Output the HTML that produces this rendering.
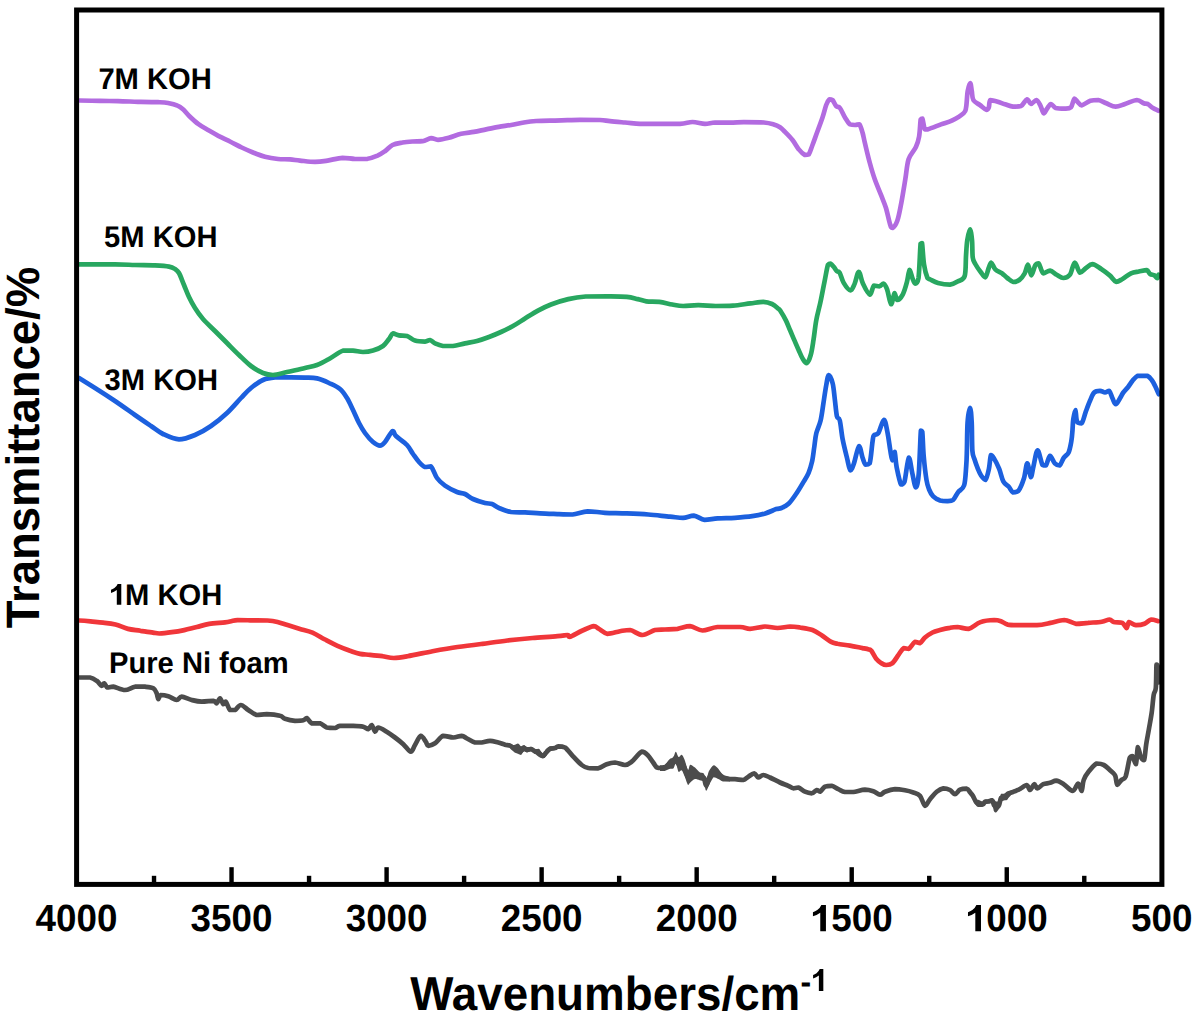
<!DOCTYPE html>
<html><head><meta charset="utf-8"><style>
html,body{margin:0;padding:0;background:#fff;width:1200px;height:1019px;overflow:hidden}
svg{display:block}
.t{font-family:"Liberation Sans",sans-serif;font-weight:bold;fill:#000;text-rendering:geometricPrecision}
</style></head><body>
<svg width="1200" height="1019" viewBox="0 0 1200 1019">
<path d="M79.2,677.5 C81.0,677.5 87.1,677.5 90.0,677.5 C92.9,678.0 94.8,679.4 96.7,680.8 C98.7,682.2 100.5,685.4 101.7,685.8 C103.0,685.8 103.2,683.3 104.2,683.3 C105.2,683.6 106.0,686.9 107.5,687.5 C109.0,687.5 110.4,686.7 113.3,686.7 C116.2,687.1 121.4,690.0 125.0,690.0 C128.6,690.0 131.7,687.2 135.0,686.7 C138.3,686.7 141.9,686.7 145.0,686.7 C148.1,687.0 151.4,687.2 153.3,688.3 C155.2,689.4 155.9,691.5 156.7,693.3 C157.5,695.1 157.6,698.9 158.3,699.2 C159.0,699.2 159.1,695.5 160.8,695.0 C162.5,695.0 165.7,695.5 168.3,696.3 C171.0,697.1 174.5,699.9 176.7,700.0 C178.9,700.0 179.2,696.7 181.7,696.7 C184.2,696.7 188.4,699.2 191.7,700.0 C195.0,700.8 198.1,701.6 201.7,701.7 C205.3,701.7 210.8,700.8 213.3,700.8 C215.8,701.1 215.6,703.3 216.7,703.3 C217.8,702.9 218.9,698.3 220.0,698.3 C221.1,698.4 222.3,703.6 223.3,704.2 C224.3,704.2 224.7,701.7 225.8,701.7 C226.9,702.7 228.5,708.6 230.0,710.0 C231.5,710.0 233.2,710.0 235.0,710.0 C236.8,709.2 238.6,705.0 240.8,705.0 C243.0,705.0 245.7,708.3 248.3,710.0 C251.0,711.7 253.6,714.3 256.7,715.0 C259.8,715.0 262.8,714.2 266.7,714.2 C270.6,714.3 276.9,715.0 280.0,715.8 C283.1,716.5 282.5,717.9 285.0,718.7 C287.5,719.5 291.9,720.5 295.0,720.8 C298.1,720.8 301.4,720.8 303.3,720.3 C305.2,719.8 305.3,718.0 306.7,718.0 C308.1,718.5 309.5,722.4 311.7,723.3 C313.9,723.3 317.5,723.3 320.0,723.3 C322.5,724.0 324.2,726.7 326.7,727.5 C329.2,728.0 332.8,728.0 335.0,728.0 C337.2,727.7 336.9,726.2 340.0,725.8 C343.1,725.8 349.4,725.8 353.3,725.8 C357.2,725.9 360.8,726.1 363.3,726.7 C365.8,727.3 366.9,729.2 368.3,729.2 C369.7,728.9 370.6,725.0 371.7,725.0 C372.8,725.4 373.9,731.3 375.0,731.7 C376.1,731.7 376.4,727.5 378.3,727.5 C380.2,727.5 383.9,730.0 386.7,731.7 C389.5,733.4 392.2,735.4 395.0,737.5 C397.8,739.6 400.7,741.8 403.3,744.2 C405.9,746.6 408.9,751.6 410.8,751.7 C412.8,751.7 413.3,747.6 415.0,745.0 C416.7,742.4 419.0,736.3 420.8,735.8 C422.6,735.8 424.6,740.0 425.8,741.7 C427.1,743.4 426.8,745.5 428.3,745.8 C429.8,745.8 432.5,745.0 435.0,743.3 C437.5,741.6 440.2,736.8 443.3,735.8 C446.4,735.8 450.2,737.5 453.3,737.5 C456.4,737.5 459.4,735.8 461.7,735.8 C464.0,736.0 464.8,737.4 467.0,738.5 C469.2,739.6 472.6,741.8 475.0,742.5 C477.4,742.5 479.2,742.5 481.7,742.5 C484.2,742.2 487.2,740.8 490.0,740.8 C492.8,740.8 495.8,741.9 498.3,742.5 C500.8,743.1 503.1,744.2 505.0,744.7 C506.9,745.2 508.5,745.0 510.0,745.6 C511.5,746.2 512.7,748.0 514.0,748.5 C515.3,748.7 516.8,748.5 518.0,748.7 C519.2,749.0 520.0,750.6 521.0,750.6 C522.0,750.5 523.0,748.3 524.0,748.2 C525.0,748.2 525.8,749.7 527.0,749.8 C528.2,749.8 529.7,749.0 531.0,749.0 C532.3,749.3 533.7,750.8 535.0,751.5 C536.3,752.1 537.7,752.1 539.0,752.9 C540.3,753.7 541.8,756.0 543.0,756.0 C544.2,756.0 544.8,753.9 546.0,752.7 C547.2,751.5 548.5,749.5 550.0,748.8 C551.5,748.1 553.6,748.5 555.0,748.1 C556.4,747.7 556.6,746.4 558.3,746.3 C560.0,746.3 562.5,746.3 565.0,747.5 C567.5,749.2 570.5,753.8 573.3,756.7 C576.1,759.6 579.2,763.1 581.7,765.0 C584.2,766.9 585.5,767.5 588.3,768.0 C591.1,768.3 595.2,768.3 598.3,768.3 C601.4,767.7 603.9,765.2 606.7,764.2 C609.5,763.2 612.0,762.5 615.0,762.5 C618.0,762.6 622.2,765.0 625.0,765.0 C627.8,764.9 628.9,763.9 631.7,761.7 C634.5,759.5 638.9,752.7 641.7,751.7 C644.5,751.7 645.8,753.2 648.3,755.8 C650.8,758.4 654.8,765.5 656.7,767.5 C658.7,768.0 658.7,768.0 660.0,768.0 C661.3,768.0 663.2,768.0 664.7,767.9 C666.2,767.3 667.8,765.1 669.3,764.2 C670.8,763.4 672.3,764.0 673.4,762.9 C674.5,761.7 674.9,757.5 675.8,757.5 C676.6,757.8 677.7,763.7 678.7,764.5 C679.7,764.5 680.6,762.5 681.6,762.5 C682.6,763.0 683.4,765.3 684.5,767.8 C685.6,770.2 687.0,776.4 688.0,777.4 C689.0,777.4 689.1,774.3 690.3,773.6 C691.5,773.3 693.4,773.3 695.0,773.3 C696.6,773.7 698.2,775.5 699.7,776.2 C701.2,776.9 702.7,776.2 703.8,777.6 C704.8,779.2 705.2,785.4 706.1,785.5 C707.0,785.5 707.7,780.6 709.0,778.2 C710.3,775.9 712.2,772.0 713.7,771.2 C715.2,771.2 716.8,772.7 718.3,773.8 C719.8,775.0 721.0,777.1 723.0,778.0 C725.0,778.9 728.0,778.9 730.0,779.1 C732.0,779.2 732.8,779.1 735.0,779.2 C737.2,779.3 741.1,780.0 743.3,780.0 C745.5,779.6 746.5,777.8 748.3,776.7 C750.1,775.6 752.5,773.3 754.2,773.3 C755.9,773.4 756.8,777.2 758.3,777.5 C759.8,777.5 761.3,775.0 763.3,775.0 C765.2,775.0 767.2,776.2 770.0,777.5 C772.8,778.8 777.0,781.1 780.0,782.5 C783.0,783.9 786.1,784.8 788.3,785.8 C790.5,786.8 791.6,788.0 793.3,788.3 C795.0,788.3 796.3,787.5 798.3,787.5 C800.2,788.1 802.8,790.7 805.0,791.7 C807.2,792.7 809.8,793.3 811.7,793.3 C813.7,793.0 815.3,790.3 816.7,790.0 C818.1,790.0 818.6,791.7 820.0,791.7 C821.4,791.2 823.0,787.7 825.0,786.7 C827.0,785.8 829.5,785.8 831.7,785.8 C833.9,786.2 836.1,788.2 838.3,789.2 C840.5,790.2 842.5,791.5 845.0,792.0 C847.5,792.0 850.0,792.0 853.3,792.0 C856.6,791.6 861.7,789.8 865.0,789.7 C868.3,789.7 870.8,790.5 873.3,791.3 C875.8,792.1 878.0,794.6 880.0,794.7 C882.0,794.7 882.5,792.6 885.0,791.7 C887.5,790.8 891.7,789.4 895.0,789.2 C898.3,789.2 902.0,789.8 905.0,790.3 C908.0,790.8 910.8,791.6 913.3,792.5 C915.8,793.4 918.0,793.6 920.0,795.8 C922.0,798.0 923.3,805.2 925.0,805.8 C926.7,805.8 928.0,801.6 930.0,799.2 C932.0,796.9 934.5,793.5 936.7,791.7 C938.9,789.9 941.1,788.6 943.3,788.3 C945.5,788.3 948.0,789.0 950.0,790.0 C952.0,791.0 953.3,794.2 955.0,794.2 C956.7,794.2 958.0,790.6 960.0,789.7 C962.0,788.8 965.0,788.7 966.7,788.7 C968.4,789.1 969.0,791.1 970.0,792.3 C971.0,793.5 972.0,794.4 973.0,796.0 C974.0,797.7 975.0,800.8 976.0,802.0 C977.0,803.3 977.8,803.2 979.0,803.5 C980.2,803.9 982.0,804.2 983.0,804.2 C984.0,803.9 984.2,802.2 985.0,801.7 C985.8,801.5 986.8,801.7 988.0,801.5 C989.2,801.3 991.0,800.4 992.0,800.4 C993.0,801.0 993.3,804.1 994.0,805.2 C994.7,806.3 995.2,807.1 996.0,807.1 C996.8,807.1 998.2,806.8 999.0,805.2 C999.8,803.7 1000.2,799.3 1001.0,797.9 C1001.8,797.0 1003.0,797.4 1004.0,797.0 C1005.0,796.7 1006.0,796.5 1007.0,795.8 C1008.0,795.2 1008.7,793.9 1010.0,793.1 C1011.3,792.3 1013.3,791.9 1015.0,791.2 C1016.7,790.6 1018.0,790.0 1020.0,789.0 C1022.0,787.9 1025.0,785.0 1026.7,785.0 C1028.4,785.2 1028.8,790.0 1030.0,790.0 C1031.2,789.9 1033.0,784.5 1034.2,784.2 C1035.5,784.2 1036.0,788.3 1037.5,788.3 C1039.0,788.3 1041.2,785.1 1043.3,784.2 C1045.4,783.3 1047.8,783.4 1050.0,782.8 C1052.2,782.2 1053.9,780.7 1056.2,780.7 C1058.5,780.9 1061.0,782.5 1063.7,784.2 C1066.5,785.9 1070.3,791.0 1072.7,791.0 C1075.1,790.9 1076.7,783.5 1078.2,783.5 C1079.7,783.5 1080.7,791.0 1081.6,791.0 C1082.5,790.4 1082.5,783.2 1083.7,780.0 C1084.9,776.8 1086.3,774.5 1088.5,771.8 C1090.7,769.0 1094.2,764.6 1096.7,763.5 C1099.2,763.5 1101.1,763.5 1103.6,764.9 C1106.1,766.3 1109.8,770.0 1111.8,771.8 C1113.8,773.6 1114.4,773.7 1115.3,775.9 C1116.2,778.1 1116.3,784.1 1117.3,784.8 C1118.3,784.8 1120.0,781.4 1121.4,780.0 C1122.8,778.6 1124.2,780.0 1125.6,776.6 C1127.0,772.9 1128.6,761.4 1129.7,758.0 C1130.8,756.0 1131.4,756.0 1132.4,756.0 C1133.4,757.0 1135.0,764.2 1135.9,764.2 C1136.8,762.7 1137.1,748.4 1137.9,747.1 C1138.7,747.1 1139.7,754.5 1140.7,756.7 C1141.7,758.9 1143.2,760.1 1144.1,760.1 C1145.0,758.0 1145.4,749.4 1146.2,744.3 C1147.0,739.1 1148.0,734.5 1148.9,729.2 C1149.8,723.9 1150.9,718.4 1151.7,712.7 C1152.5,707.0 1153.0,698.9 1153.7,694.8 C1154.4,690.7 1155.3,693.0 1155.8,688.0 C1156.3,683.0 1156.2,668.0 1156.5,664.6 C1156.8,664.6 1157.6,664.6 1157.9,667.4 C1158.2,670.4 1158.4,680.0 1158.5,682.5" fill="none" stroke="#4c4c4c" stroke-width="4.7" stroke-linejoin="round" stroke-linecap="round"/>
<path d="M970.0,789.6 C970.5,790.1 972.0,791.0 973.0,792.5 C974.0,794.0 975.0,797.4 976.0,798.7 C977.0,799.9 977.8,799.5 979.0,800.0 C980.2,800.5 982.0,801.6 983.0,801.6 C984.0,801.6 984.2,799.9 985.0,799.6 C985.8,799.6 986.8,799.6 988.0,799.6 C989.2,799.3 991.0,798.0 992.0,797.9 C993.0,797.9 993.3,798.5 994.0,799.1 C994.7,799.8 995.2,801.2 996.0,801.6 C996.8,801.6 998.2,801.6 999.0,801.6 C999.8,800.3 1000.2,795.0 1001.0,793.7 C1001.8,793.7 1003.0,793.7 1004.0,793.7 C1005.0,793.4 1006.0,792.1 1007.0,791.6 C1008.0,791.2 1008.7,791.1 1010.0,790.8 C1011.3,790.5 1013.3,790.3 1015.0,789.6 C1016.7,788.9 1019.2,787.1 1020.0,786.6 L1020.0,791.3 C1019.2,791.6 1016.7,792.2 1015.0,792.9 C1013.3,793.6 1011.3,794.2 1010.0,795.4 C1008.7,796.6 1008.0,799.2 1007.0,800.0 C1006.0,800.4 1005.0,800.0 1004.0,800.4 C1003.0,800.8 1001.8,800.7 1001.0,802.1 C1000.2,803.5 999.8,807.1 999.0,808.8 C998.2,810.5 996.8,812.1 996.0,812.5 C995.2,812.5 994.7,812.5 994.0,811.3 C993.3,809.7 993.0,804.2 992.0,802.9 C991.0,802.9 989.2,803.2 988.0,803.4 C986.8,803.5 985.8,803.4 985.0,803.8 C984.2,804.4 984.0,806.2 983.0,806.7 C982.0,807.1 980.2,807.1 979.0,807.1 C977.8,806.9 977.0,806.6 976.0,805.4 C975.0,804.1 974.0,801.3 973.0,799.6 C972.0,797.9 970.5,795.8 970.0,795.0 Z" fill="#4c4c4c"/>
<path d="M660.0,765.2 C660.8,765.1 663.2,765.2 664.7,764.7 C666.2,763.7 667.8,760.7 669.3,759.4 C670.8,758.1 672.3,758.4 673.4,757.1 C674.5,755.8 674.9,751.8 675.8,751.8 C676.6,751.8 677.7,756.6 678.7,757.1 C679.7,757.1 680.6,754.7 681.6,754.7 C682.6,755.1 683.4,756.9 684.5,759.4 C685.6,761.9 687.0,769.0 688.0,769.9 C689.0,769.9 689.1,765.1 690.3,764.7 C691.5,764.7 693.4,766.4 695.0,767.6 C696.6,768.9 698.2,771.2 699.7,772.2 C701.2,773.2 702.7,772.2 703.8,773.4 C704.8,774.8 705.2,780.4 706.1,780.4 C707.0,780.0 707.7,773.6 709.0,771.1 C710.3,768.6 712.2,765.6 713.7,765.2 C715.2,765.2 716.8,767.1 718.3,768.7 C719.8,770.3 721.0,773.2 723.0,774.6 C725.0,776.0 728.8,776.5 730.0,776.9 L730.0,781.4 C728.8,781.4 725.0,781.4 723.0,781.4 C721.0,781.0 719.8,779.7 718.3,779.0 C716.8,778.3 715.2,777.3 713.7,777.3 C712.2,778.4 710.3,783.2 709.0,785.4 C707.7,787.6 707.0,790.7 706.1,790.7 C705.2,790.1 704.8,783.6 703.8,781.9 C702.7,780.2 701.2,780.7 699.7,780.2 C698.2,779.7 696.6,779.0 695.0,779.0 C693.4,779.4 691.5,781.5 690.3,782.5 C689.1,783.5 689.0,784.9 688.0,784.9 C687.0,783.8 685.6,778.5 684.5,776.1 C683.4,773.7 682.6,771.0 681.6,770.3 C680.6,770.3 679.7,772.0 678.7,772.0 C677.7,770.8 676.6,763.9 675.8,763.3 C674.9,763.3 674.5,767.6 673.4,768.6 C672.3,769.1 670.8,768.7 669.3,769.1 C667.8,769.5 666.2,770.8 664.7,771.1 C663.2,771.1 660.8,770.9 660.0,770.9 Z" fill="#4c4c4c"/>
<path d="M505.0,742.7 C505.8,742.9 508.5,743.3 510.0,743.7 C511.5,744.1 512.7,745.0 514.0,745.0 C515.3,745.0 516.8,743.5 518.0,743.5 C519.2,743.7 520.0,745.9 521.0,746.2 C522.0,746.2 523.0,745.0 524.0,745.0 C525.0,745.1 525.8,746.8 527.0,747.1 C528.2,747.1 529.7,746.7 531.0,746.7 C532.3,747.0 533.7,748.8 535.0,749.1 C536.3,749.1 537.7,748.7 539.0,748.7 C540.3,749.5 541.8,753.6 543.0,753.7 C544.2,753.7 544.8,750.4 546.0,749.1 C547.2,747.9 548.5,746.7 550.0,746.2 C551.5,746.2 554.2,746.2 555.0,746.2 L555.0,750.0 C554.2,750.2 551.5,750.2 550.0,751.3 C548.5,752.4 547.2,755.1 546.0,756.3 C544.8,757.5 544.2,758.2 543.0,758.4 C541.8,758.4 540.3,757.9 539.0,757.1 C537.7,756.3 536.3,754.8 535.0,753.8 C533.7,752.8 532.3,751.5 531.0,751.3 C529.7,751.3 528.2,752.5 527.0,752.5 C525.8,752.5 525.0,751.3 524.0,751.3 C523.0,751.7 522.0,754.6 521.0,755.0 C520.0,755.0 519.2,754.3 518.0,753.8 C516.8,753.3 515.3,753.2 514.0,752.1 C512.7,751.0 511.5,748.4 510.0,747.5 C508.5,746.7 505.8,746.8 505.0,746.7 Z" fill="#4c4c4c"/>
<path d="M79.2,620.5 C81.1,620.6 86.5,621.0 90.5,621.4 C94.5,621.8 98.8,622.1 103.0,622.6 C107.2,623.1 111.3,623.5 115.5,624.5 C119.7,625.5 123.8,627.9 128.0,628.9 C132.2,629.9 136.3,630.1 140.5,630.8 C144.7,631.4 149.9,632.1 153.0,632.6 C156.1,633.1 156.1,633.5 159.2,633.5 C162.4,633.4 167.6,632.8 171.8,632.2 C175.9,631.7 180.1,631.0 184.2,630.1 C188.4,629.2 192.6,628.0 196.8,627.0 C200.9,626.0 204.5,624.7 209.2,623.9 C214.0,623.1 221.3,622.8 225.0,622.3 C228.7,621.8 229.2,621.6 231.2,621.2 C233.3,620.8 234.4,620.2 237.5,620.1 C240.6,620.1 245.0,620.2 250.0,620.3 C255.0,620.4 262.9,620.3 267.5,620.5 C272.1,620.8 274.2,621.2 277.5,622.0 C280.8,622.8 283.8,624.0 287.5,625.1 C291.2,626.2 295.8,627.6 300.0,628.9 C304.2,630.1 308.3,630.8 312.5,632.6 C316.7,634.4 320.8,637.3 325.0,639.5 C329.2,641.7 333.3,643.9 337.5,645.8 C341.7,647.6 346.2,649.4 350.0,650.8 C353.8,652.1 356.7,653.2 360.0,653.9 C363.3,654.6 366.2,654.4 370.0,654.8 C373.8,655.2 378.5,655.7 382.5,656.2 C386.5,656.8 389.6,658.0 393.8,658.0 C397.9,658.0 401.0,657.4 407.5,656.2 C414.0,655.1 424.2,652.8 432.5,651.2 C440.8,649.7 449.2,648.2 457.5,647.0 C465.8,645.8 474.2,644.8 482.5,643.8 C490.8,642.7 499.2,641.5 507.5,640.5 C515.8,639.5 524.2,638.7 532.5,638.0 C540.8,637.3 551.7,636.8 557.5,636.2 C563.3,635.8 565.4,635.0 567.5,635.0 C569.6,635.1 567.5,636.8 570.0,636.8 C572.5,636.0 578.5,632.2 582.5,630.5 C586.5,628.8 591.0,626.5 593.8,626.2 C596.5,626.2 596.5,627.5 598.8,628.8 C601.0,630.0 604.0,633.3 607.5,633.8 C611.0,633.8 616.2,631.9 620.0,631.2 C623.8,630.6 626.2,630.0 630.0,630.0 C633.8,630.6 638.3,635.0 642.5,635.0 C646.7,635.0 651.2,630.9 655.0,630.0 C658.8,629.5 661.2,629.7 665.0,629.5 C668.8,629.3 673.3,629.3 677.5,628.8 C681.7,628.2 685.8,626.2 690.0,626.2 C694.2,626.5 697.9,630.4 702.5,630.5 C707.1,630.5 711.2,627.6 717.5,627.0 C723.8,627.0 734.6,627.0 740.0,627.0 C745.4,627.3 745.8,628.8 750.0,628.8 C754.2,628.7 760.4,626.6 765.0,626.5 C769.6,626.5 773.3,628.0 777.5,628.0 C781.7,628.0 786.2,626.6 790.0,626.5 C793.8,626.5 796.2,626.9 800.0,627.5 C803.8,628.1 808.8,628.7 812.5,630.0 C816.2,631.3 818.9,633.5 822.0,635.5 C825.1,637.5 828.7,640.5 831.2,641.9 C833.8,643.3 834.4,643.1 837.5,643.8 C840.6,644.4 845.8,644.9 850.0,645.6 C854.2,646.3 859.4,647.5 862.5,648.1 C865.6,648.7 867.3,649.0 868.8,649.4 C870.2,649.8 870.0,649.4 871.2,650.6 C872.5,652.2 874.6,656.7 876.2,658.8 C877.9,660.8 879.3,662.0 881.0,663.0 C882.7,664.0 884.3,665.0 886.2,665.0 C888.2,665.0 890.4,664.9 892.5,663.1 C894.6,661.3 896.9,656.9 898.8,654.4 C900.6,651.9 902.1,649.0 903.8,648.1 C905.4,648.1 906.9,648.8 908.8,648.8 C910.6,647.7 913.1,642.8 915.0,641.9 C916.9,641.9 918.3,643.1 920.0,643.1 C921.7,642.4 922.9,639.3 925.0,637.5 C927.1,635.7 930.0,633.8 932.5,632.5 C935.0,631.2 937.1,630.8 940.0,630.0 C942.9,629.2 947.1,628.2 950.0,627.8 C952.9,627.2 954.4,627.0 957.5,627.0 C960.6,627.2 964.7,628.9 968.5,628.9 C972.3,628.1 976.2,623.6 980.5,622.1 C984.8,620.6 990.8,620.1 994.2,620.0 C997.6,620.0 998.7,620.4 1001.0,621.2 C1003.3,622.0 1004.7,623.9 1007.8,624.6 C1010.9,625.2 1014.9,625.1 1019.8,625.2 C1024.7,625.2 1031.8,625.2 1036.9,625.2 C1042.0,624.8 1046.0,623.8 1050.5,622.9 C1055.0,622.0 1059.9,620.0 1064.2,620.0 C1068.5,620.1 1072.2,623.3 1076.2,623.8 C1080.2,623.8 1083.8,623.2 1088.1,622.9 C1092.4,622.5 1098.2,622.3 1101.8,621.7 C1105.4,621.1 1107.5,619.5 1109.5,619.5 C1111.5,619.6 1111.6,621.5 1113.7,622.1 C1115.8,622.7 1120.2,622.1 1122.3,622.9 C1124.4,623.9 1125.5,628.1 1126.6,628.1 C1127.7,628.0 1127.5,622.6 1129.1,622.1 C1130.7,622.1 1133.4,624.9 1136.0,625.2 C1138.6,625.2 1142.0,624.8 1144.5,623.8 C1147.0,622.8 1149.0,619.9 1151.3,619.5 C1153.6,619.5 1157.0,620.9 1158.2,621.2" fill="none" stroke="#f0363a" stroke-width="4.7" stroke-linejoin="round" stroke-linecap="round"/>
<path d="M79.0,378.0 C81.7,379.7 89.0,384.2 95.0,388.0 C101.0,391.8 108.3,396.5 115.0,401.0 C121.7,405.5 129.0,410.8 135.0,415.0 C141.0,419.2 146.3,422.8 151.0,426.0 C155.7,429.2 158.3,431.8 163.0,434.0 C167.7,436.2 173.7,439.2 179.0,439.4 C184.3,439.4 189.7,437.2 195.0,435.0 C200.3,432.8 205.7,429.7 211.0,426.0 C216.3,422.3 222.0,417.7 227.0,413.0 C232.0,408.3 237.0,402.2 241.0,398.0 C245.0,393.8 247.3,391.0 251.0,388.0 C254.7,385.0 259.0,381.8 263.0,380.0 C267.0,378.2 270.3,377.8 275.0,377.4 C279.7,377.4 286.0,377.4 291.0,377.4 C296.0,377.4 300.7,377.4 305.0,377.6 C309.3,377.8 313.0,377.6 317.0,378.4 C321.0,379.3 325.2,381.2 329.0,383.0 C332.8,384.8 337.0,386.5 340.0,389.0 C343.0,391.5 344.8,394.5 347.0,398.0 C349.2,401.5 351.0,405.8 353.0,410.0 C355.0,414.2 357.0,419.2 359.0,423.0 C361.0,426.8 362.7,429.8 365.0,433.0 C367.3,436.2 370.5,439.9 373.0,442.0 C375.5,444.1 378.0,445.6 380.0,445.6 C382.0,445.6 382.9,444.4 385.0,442.0 C387.1,439.6 390.8,432.0 392.6,431.0 C394.4,431.0 393.6,433.7 396.0,436.0 C398.4,438.3 404.2,442.0 407.0,445.0 C409.8,448.0 411.0,451.2 413.0,454.0 C415.0,456.8 417.0,459.8 419.0,462.0 C421.0,464.2 423.0,466.3 425.0,467.0 C427.0,467.0 429.0,466.4 431.0,466.4 C433.0,468.2 434.7,474.8 437.0,478.0 C439.3,481.2 441.7,483.3 445.0,485.6 C448.3,487.9 453.7,490.6 457.0,492.0 C460.3,493.4 462.3,492.8 465.0,494.0 C467.7,495.2 469.7,497.5 473.0,499.0 C476.3,500.5 481.8,502.2 485.0,503.0 C488.2,503.8 489.7,503.2 492.0,504.0 C494.3,504.8 495.8,506.7 499.0,508.0 C502.2,509.3 506.7,511.3 511.0,512.0 C515.3,512.4 520.2,512.2 525.0,512.4 C529.8,512.6 534.6,513.1 540.0,513.4 C545.4,513.7 551.9,513.9 557.3,514.1 C562.7,514.3 567.4,514.5 572.5,514.5 C577.6,514.0 582.3,511.6 587.7,511.3 C593.1,511.3 598.5,512.4 605.0,512.8 C611.5,513.1 619.5,513.1 626.7,513.4 C633.9,513.7 641.1,514.0 648.3,514.5 C655.5,515.0 664.2,516.2 670.0,516.7 C675.8,517.2 679.0,517.8 683.0,517.8 C687.0,517.6 690.2,515.6 693.8,515.6 C697.4,516.0 700.7,519.4 704.7,519.9 C708.7,519.9 712.7,518.8 717.7,518.4 C722.8,518.0 729.2,518.2 735.0,517.8 C740.8,517.4 747.2,516.9 752.3,516.2 C757.3,515.5 761.3,514.6 765.3,513.4 C769.3,512.2 773.5,510.0 776.2,509.1 C778.9,508.2 779.4,508.9 781.4,508.0 C783.4,507.1 786.1,506.1 788.5,503.8 C790.9,501.6 793.3,497.9 795.7,494.5 C798.1,491.1 800.7,486.7 802.8,483.1 C804.9,479.6 807.0,476.8 808.5,473.2 C810.0,469.6 811.0,466.1 812.0,461.8 C813.0,457.5 813.5,452.2 814.2,447.5 C814.9,442.8 815.2,437.8 816.3,433.3 C817.4,428.8 819.4,425.5 820.6,420.5 C821.8,415.5 822.5,409.3 823.4,403.4 C824.3,397.5 825.4,389.6 826.3,384.9 C827.2,380.2 827.7,375.2 828.8,375.0 C829.9,375.0 831.7,379.5 832.7,383.5 C833.7,387.5 834.1,393.8 834.8,399.2 C835.5,404.6 836.1,412.6 836.9,416.2 C837.7,419.8 838.8,416.7 839.8,420.5 C840.8,424.3 841.4,432.8 842.6,439.0 C843.8,445.2 845.6,452.3 846.9,457.5 C848.2,462.7 849.2,469.4 850.4,470.3 C851.6,470.3 852.6,467.2 854.0,463.2 C855.4,459.2 857.6,447.1 859.0,446.1 C860.4,446.1 861.4,454.4 862.5,457.5 C863.6,460.6 864.2,463.7 865.4,464.6 C866.6,464.6 868.5,464.6 869.7,463.2 C870.9,459.4 871.8,446.4 872.5,441.8 C873.2,437.2 872.9,436.8 873.9,435.4 C874.9,434.0 876.5,435.4 878.2,433.3 C879.9,430.7 882.4,420.0 883.9,419.8 C885.4,419.8 886.3,426.8 887.4,431.9 C888.5,437.0 889.5,445.7 890.3,450.4 C891.1,455.1 891.7,460.1 892.4,460.3 C893.1,460.3 893.9,451.8 894.6,451.8 C895.3,453.0 895.6,462.1 896.7,467.5 C897.8,472.9 899.7,482.1 901.0,484.5 C902.3,484.5 903.2,484.5 904.5,481.7 C905.8,477.2 907.5,458.9 908.8,457.5 C910.1,457.5 911.1,468.2 912.3,473.2 C913.5,478.2 914.8,487.4 915.9,487.4 C917.0,487.4 918.0,482.7 918.8,473.2 C919.6,463.7 920.3,437.4 920.9,430.5 C921.5,430.5 921.8,430.5 922.3,431.9 C922.8,436.2 923.0,448.1 923.7,456.1 C924.4,464.1 925.6,474.4 926.5,480.0 C927.4,485.6 928.0,486.8 929.1,489.5 C930.2,492.2 931.4,494.6 933.2,496.4 C935.0,498.2 937.8,499.7 940.1,500.5 C942.4,501.2 944.8,501.2 947.0,501.2 C949.2,501.1 951.4,501.2 953.2,499.8 C955.0,498.3 956.2,494.7 958.0,492.3 C959.8,489.9 962.7,489.8 964.1,485.4 C965.5,481.0 965.7,472.1 966.2,466.2 C966.7,460.2 966.7,457.0 966.9,449.7 C967.1,442.4 967.1,429.2 967.6,422.2 C968.1,415.2 969.4,407.8 970.1,407.8 C970.8,407.8 971.3,415.0 971.7,422.2 C972.1,429.4 971.9,444.8 972.4,451.0 C972.9,457.2 973.6,456.3 974.5,459.3 C975.4,462.3 976.8,466.1 977.9,468.9 C979.0,471.6 980.0,474.0 981.3,475.8 C982.5,477.6 984.1,479.9 985.4,479.9 C986.7,478.8 988.0,473.0 988.9,468.9 C989.8,464.8 990.1,457.0 990.9,455.2 C991.7,455.2 992.3,455.6 993.7,457.9 C995.1,460.2 997.6,465.0 999.2,468.9 C1000.8,472.8 1001.7,478.3 1003.3,481.3 C1004.9,484.3 1007.2,485.0 1008.8,486.8 C1010.4,488.6 1011.3,491.6 1012.9,492.3 C1014.5,492.3 1016.6,492.3 1018.4,490.9 C1020.2,488.6 1022.4,483.1 1023.9,478.5 C1025.4,473.9 1026.1,463.6 1027.3,463.4 C1028.5,463.4 1029.8,476.6 1030.8,477.1 C1031.8,477.1 1032.4,470.6 1033.5,466.2 C1034.6,461.8 1036.1,450.6 1037.6,450.4 C1039.1,450.4 1041.0,462.3 1042.4,464.8 C1043.8,465.5 1044.6,465.5 1045.9,465.5 C1047.2,464.0 1048.5,456.2 1050.0,455.9 C1051.5,455.9 1053.2,461.8 1054.8,463.4 C1056.4,465.0 1058.1,465.5 1059.6,465.5 C1061.1,464.6 1062.2,460.1 1063.7,457.9 C1065.2,455.7 1067.3,455.1 1068.6,452.4 C1069.9,449.6 1070.6,445.1 1071.3,441.4 C1072.0,437.7 1072.2,433.7 1072.5,430.0 C1072.8,426.3 1072.8,422.5 1073.3,419.2 C1073.8,415.9 1074.8,410.0 1075.4,410.0 C1076.0,410.4 1076.0,419.5 1077.1,421.7 C1078.1,423.3 1080.2,423.3 1081.7,423.3 C1083.2,421.6 1084.4,415.4 1085.8,411.7 C1087.2,407.9 1088.6,404.0 1090.0,400.8 C1091.4,397.6 1092.5,394.2 1094.2,392.5 C1095.9,390.8 1098.2,390.8 1100.0,390.8 C1101.8,390.8 1103.5,392.5 1105.0,392.5 C1106.5,392.5 1108.0,390.8 1109.2,390.8 C1110.5,391.8 1111.4,396.1 1112.5,398.3 C1113.6,400.5 1114.5,404.2 1115.8,404.2 C1117.0,404.2 1118.8,400.2 1120.0,398.3 C1121.2,396.4 1121.9,394.4 1123.3,392.5 C1124.7,390.6 1126.8,388.6 1128.3,386.7 C1129.8,384.8 1131.0,382.6 1132.5,380.8 C1134.0,379.0 1135.7,376.6 1137.5,375.8 C1139.3,375.8 1141.6,375.8 1143.3,375.8 C1145.0,375.8 1146.1,375.8 1147.5,375.8 C1148.9,376.5 1150.5,378.3 1151.7,380.0 C1153.0,381.7 1153.8,383.4 1155.0,385.8 C1156.2,388.2 1158.1,392.8 1158.8,394.2" fill="none" stroke="#1c60de" stroke-width="4.7" stroke-linejoin="round" stroke-linecap="round"/>
<path d="M79.0,264.4 C85.0,264.4 105.7,264.4 115.0,264.4 C124.3,264.5 128.3,264.8 135.0,265.0 C141.7,265.2 149.3,265.1 155.0,265.4 C160.7,265.7 165.7,266.0 169.0,266.6 C172.3,267.2 173.3,267.9 175.0,269.0 C176.7,270.1 177.5,270.3 179.0,273.0 C180.5,275.7 182.3,281.0 184.0,285.0 C185.7,289.0 187.2,293.2 189.0,297.0 C190.8,300.8 192.7,304.3 195.0,308.0 C197.3,311.7 199.7,315.2 203.0,319.0 C206.3,322.8 211.0,327.0 215.0,331.0 C219.0,335.0 223.0,339.0 227.0,343.0 C231.0,347.0 235.0,351.2 239.0,355.0 C243.0,358.8 247.0,363.0 251.0,366.0 C255.0,369.0 259.3,371.5 263.0,373.0 C266.7,374.5 269.0,375.0 273.0,375.0 C277.0,374.8 281.7,373.2 287.0,372.0 C292.3,370.8 300.0,369.2 305.0,368.0 C310.0,366.8 313.0,366.5 317.0,365.0 C321.0,363.5 324.7,361.4 329.0,359.0 C333.3,356.6 339.0,352.0 343.0,350.6 C347.0,350.6 349.7,350.6 353.0,350.6 C356.3,350.8 359.7,352.0 363.0,352.0 C366.3,352.0 369.7,351.6 373.0,350.6 C376.3,349.6 380.3,347.9 383.0,346.0 C385.7,344.1 387.3,341.1 389.0,339.0 C390.7,336.9 391.3,334.0 393.0,333.4 C394.7,333.4 396.7,335.0 399.0,335.4 C401.3,335.8 404.3,335.4 407.0,336.0 C409.7,336.9 412.0,339.7 415.0,340.6 C418.0,341.5 422.5,341.6 425.0,341.6 C427.5,341.5 428.3,340.0 430.0,340.0 C431.7,340.3 432.8,342.4 435.0,343.4 C437.2,344.4 440.0,345.6 443.0,346.0 C446.0,346.0 449.3,346.0 453.0,346.0 C456.7,345.6 461.0,344.2 465.0,343.4 C469.0,342.6 473.0,342.1 477.0,341.0 C481.0,339.9 485.0,338.5 489.0,337.0 C493.0,335.5 497.0,333.8 501.0,332.0 C505.0,330.2 509.0,328.2 513.0,326.0 C517.0,323.8 520.8,321.1 525.0,318.5 C529.2,315.9 533.7,312.9 538.0,310.6 C542.3,308.3 546.0,306.4 551.0,304.5 C556.0,302.6 562.5,300.4 568.3,299.1 C574.1,297.8 579.2,297.0 585.7,296.5 C592.2,296.3 600.4,296.3 607.3,296.3 C614.1,296.4 621.7,296.4 626.8,296.9 C631.9,297.4 634.5,298.4 637.7,299.1 C641.0,299.8 642.7,300.8 646.3,301.3 C649.9,301.8 655.0,301.4 659.3,301.9 C663.6,302.4 668.3,303.8 672.3,304.5 C676.3,305.2 678.9,305.9 683.2,306.0 C687.5,306.0 692.9,305.2 698.3,305.2 C703.7,305.2 709.9,305.9 715.7,306.0 C721.5,306.0 727.2,306.0 733.0,305.6 C738.8,305.2 745.2,304.0 750.3,303.4 C755.3,302.8 759.7,301.9 763.3,301.9 C766.9,302.0 769.5,302.9 772.0,304.0 C774.5,305.1 777.1,307.6 778.5,308.8 C779.9,310.0 779.2,309.0 780.5,311.0 C781.8,313.0 784.4,317.4 786.0,320.6 C787.6,323.8 788.7,327.1 790.1,330.3 C791.5,333.5 792.8,336.7 794.2,339.9 C795.6,343.1 797.0,346.4 798.4,349.5 C799.8,352.6 801.1,356.1 802.5,358.4 C803.9,360.7 805.2,363.2 806.6,363.2 C808.0,362.6 809.6,358.9 810.7,355.0 C811.9,351.1 812.6,345.6 813.5,339.9 C814.4,334.2 815.1,326.8 816.2,320.6 C817.3,314.4 818.9,309.2 820.3,302.8 C821.7,296.4 823.1,288.5 824.4,282.2 C825.7,275.9 826.9,268.1 827.9,265.0 C828.9,263.7 829.6,263.7 830.6,263.7 C831.6,264.1 833.0,265.9 834.0,267.1 C835.0,268.4 835.9,270.3 836.8,271.2 C837.7,272.1 838.5,271.2 839.6,272.6 C840.8,274.6 841.9,279.9 843.7,282.9 C845.5,285.9 848.7,290.3 850.5,290.4 C852.3,290.4 853.3,286.7 854.7,283.6 C856.1,280.5 857.4,271.9 858.8,271.9 C860.2,271.9 861.1,279.8 862.9,283.6 C864.7,287.4 868.0,294.3 869.8,294.6 C871.6,294.6 872.3,287.0 873.9,285.6 C875.5,285.6 877.8,286.3 879.4,286.3 C881.0,286.0 882.2,283.6 883.5,283.6 C884.8,284.1 885.7,285.7 887.0,289.1 C888.3,292.5 889.9,303.5 891.1,304.2 C892.4,304.2 893.5,293.9 894.5,293.2 C895.5,293.2 895.9,299.8 897.3,300.0 C898.7,300.0 901.1,297.6 902.7,294.6 C904.3,291.6 905.8,286.3 906.9,282.2 C908.0,278.1 908.7,270.5 909.6,269.8 C910.5,269.8 911.5,275.8 912.4,278.1 C913.3,280.4 914.1,283.6 915.1,283.6 C916.1,283.6 917.6,283.6 918.5,278.1 C919.4,271.5 920.0,249.5 920.6,243.7 C921.2,243.0 921.4,243.0 922.0,243.0 C922.6,246.4 923.1,258.4 924.0,264.3 C924.9,270.2 926.5,275.6 927.5,278.1 C928.5,279.3 928.2,278.5 930.0,279.3 C931.8,280.1 934.7,282.1 938.0,283.0 C941.3,283.9 946.7,284.7 950.0,284.7 C953.3,284.4 955.5,282.8 958.0,281.3 C960.5,279.9 963.4,280.2 964.7,276.0 C966.0,271.8 965.6,262.0 966.0,256.0 C966.4,250.0 966.6,244.4 967.3,240.0 C968.0,235.6 969.2,229.3 970.0,229.3 C970.8,229.3 971.5,235.3 972.0,240.0 C972.5,244.7 972.2,253.3 972.7,257.3 C973.2,261.3 974.0,261.6 975.3,264.0 C976.6,266.4 979.0,269.8 980.7,272.0 C982.4,274.2 984.0,277.3 985.3,277.3 C986.6,276.6 987.7,270.4 988.7,268.0 C989.7,265.6 990.2,262.7 991.3,262.7 C992.4,262.9 993.5,267.5 995.3,269.3 C997.1,271.1 1000.0,271.9 1002.0,273.3 C1004.0,274.8 1005.4,276.6 1007.3,278.0 C1009.2,279.4 1011.3,281.7 1013.3,282.0 C1015.3,282.0 1017.4,281.4 1019.3,280.0 C1021.2,278.6 1023.2,275.9 1024.7,273.3 C1026.2,270.8 1026.9,264.7 1028.0,264.7 C1029.1,265.0 1030.1,275.2 1031.3,275.3 C1032.5,275.3 1034.1,267.3 1035.3,265.3 C1036.5,263.3 1037.4,263.3 1038.7,263.3 C1040.0,264.6 1041.4,272.1 1043.3,273.3 C1045.2,273.3 1047.8,270.7 1050.0,270.7 C1052.2,270.9 1054.5,273.5 1056.7,274.7 C1058.9,275.9 1061.1,278.0 1063.3,278.0 C1065.5,278.0 1068.1,277.2 1070.0,274.7 C1071.9,272.1 1073.0,263.0 1074.7,262.7 C1076.4,262.7 1078.2,271.8 1080.0,272.7 C1081.8,272.7 1083.6,269.7 1085.7,268.3 C1087.8,266.9 1089.8,264.1 1092.4,264.1 C1095.0,264.2 1098.3,267.1 1101.2,269.0 C1104.1,270.9 1107.2,273.3 1109.7,275.4 C1112.2,277.5 1114.0,281.2 1116.1,281.8 C1118.2,281.8 1120.0,280.4 1122.5,279.0 C1125.0,277.6 1128.3,274.6 1131.0,273.3 C1133.7,272.1 1136.2,272.0 1138.8,271.5 C1141.4,271.0 1144.7,270.1 1146.6,270.1 C1148.5,270.5 1148.8,273.1 1150.1,274.0 C1151.4,274.9 1153.2,274.7 1154.4,275.4 C1155.6,276.1 1156.5,278.2 1157.2,278.2 C1157.9,278.1 1158.4,275.3 1158.6,274.7" fill="none" stroke="#28a760" stroke-width="4.7" stroke-linejoin="round" stroke-linecap="round"/>
<path d="M79.5,100.5 C82.9,100.6 93.6,100.8 100.0,100.9 C106.4,101.0 111.7,101.0 118.0,101.1 C124.3,101.2 131.3,101.6 138.0,101.8 C144.7,101.9 153.0,102.0 158.0,102.2 C163.0,102.4 164.8,102.4 168.0,103.0 C171.2,103.6 175.0,104.5 177.5,105.6 C180.0,106.6 181.1,107.6 183.0,109.3 C184.9,111.0 186.6,113.5 189.2,116.0 C191.8,118.5 195.4,121.9 198.5,124.2 C201.6,126.5 204.7,128.1 208.0,130.0 C211.3,131.9 214.6,133.9 218.3,135.8 C222.0,137.7 226.1,139.6 230.0,141.5 C233.9,143.4 237.9,145.7 241.7,147.5 C245.5,149.3 249.1,150.9 253.0,152.5 C256.9,154.1 260.8,155.7 265.0,156.8 C269.2,157.9 273.8,158.6 278.0,159.0 C282.2,159.4 286.3,159.1 290.0,159.4 C293.7,159.7 295.8,160.2 300.0,160.6 C304.2,161.0 310.4,161.9 315.0,161.9 C319.6,161.9 322.9,161.3 327.5,160.6 C332.1,159.9 337.9,158.0 342.5,157.8 C347.1,157.8 350.8,158.8 355.0,159.0 C359.2,159.0 363.8,159.0 367.5,158.8 C371.2,158.2 374.6,156.8 377.5,155.6 C380.4,154.3 382.5,153.0 385.0,151.2 C387.5,149.5 389.6,146.5 392.5,145.0 C395.4,143.5 399.2,143.1 402.5,142.5 C405.8,141.9 409.2,141.7 412.5,141.5 C415.8,141.3 419.4,141.5 422.5,141.2 C425.6,140.7 428.7,138.3 431.2,138.1 C433.8,138.1 435.1,139.8 438.0,139.8 C440.9,139.7 444.9,138.8 448.8,137.8 C452.6,136.8 457.1,134.7 461.2,133.8 C465.4,132.8 469.6,132.6 473.8,131.9 C477.9,131.2 482.1,130.2 486.2,129.4 C490.4,128.6 494.6,127.6 498.8,126.9 C502.9,126.2 507.1,125.7 511.2,125.0 C515.4,124.3 519.6,123.2 523.8,122.5 C527.9,121.8 531.0,121.3 536.2,121.0 C541.5,120.7 549.8,120.7 555.0,120.6 C560.2,120.5 563.3,120.4 567.5,120.2 C571.7,120.1 574.6,119.9 580.0,119.9 C585.4,119.9 595.0,119.9 600.0,120.0 C605.0,120.2 605.8,120.8 610.0,121.2 C614.2,121.7 620.0,122.1 625.0,122.5 C630.0,122.9 635.0,123.5 640.0,123.8 C645.0,123.8 648.3,123.8 655.0,123.8 C661.7,123.8 673.8,123.8 680.0,123.8 C686.2,123.5 688.3,122.0 692.5,122.0 C696.7,122.0 701.2,123.7 705.0,123.8 C708.8,123.8 710.8,122.7 715.0,122.5 C719.2,122.5 725.2,122.6 730.0,122.6 C734.8,122.6 738.1,122.3 743.8,122.2 C749.4,122.2 758.8,122.2 763.8,122.5 C768.8,122.9 771.0,123.6 773.8,124.4 C776.5,125.2 778.1,126.0 780.0,127.2 C781.9,128.5 782.9,129.8 785.0,131.9 C787.1,134.0 790.2,137.1 792.5,140.0 C794.8,142.9 796.7,146.9 798.8,149.4 C800.8,151.9 803.3,154.2 805.0,155.0 C806.7,155.0 807.5,155.0 808.8,154.4 C810.0,152.7 811.0,148.9 812.5,145.0 C814.0,141.1 815.8,135.8 817.5,131.2 C819.2,126.7 821.0,121.9 822.5,117.5 C824.0,113.1 825.1,108.0 826.2,105.0 C827.4,102.0 828.4,100.2 829.4,99.4 C830.4,99.4 831.4,99.4 832.5,100.0 C833.6,101.1 835.0,104.9 836.2,106.2 C837.5,107.6 838.5,106.2 840.0,108.1 C841.5,110.0 843.3,114.8 845.0,117.5 C846.7,120.2 848.3,123.2 850.0,124.4 C851.7,125.0 853.4,125.0 855.0,125.0 C856.6,125.0 858.1,124.4 859.4,124.4 C860.6,125.7 861.6,129.4 862.5,132.5 C863.4,135.6 863.7,138.0 864.9,143.0 C866.1,148.0 868.1,156.6 869.7,162.5 C871.3,168.4 872.7,173.3 874.6,178.7 C876.5,184.1 879.1,190.1 881.0,194.9 C882.9,199.8 884.4,203.0 885.9,207.8 C887.4,212.7 888.9,220.6 890.0,224.0 C891.1,227.4 891.2,228.0 892.4,228.0 C893.6,227.5 895.8,225.0 897.3,220.8 C898.8,216.6 899.9,210.0 901.3,203.0 C902.6,196.0 904.2,186.0 905.4,178.7 C906.6,171.4 906.9,164.5 908.6,159.2 C910.4,153.9 914.1,150.9 915.9,147.1 C917.6,143.3 918.3,141.2 919.1,136.6 C919.9,132.0 920.2,122.5 920.7,119.5 C921.2,118.7 921.7,118.7 922.4,118.7 C923.1,120.3 923.9,127.5 924.8,129.3 C925.7,129.3 925.3,129.3 928.0,129.3 C930.7,128.5 937.0,125.9 941.0,124.4 C945.0,122.9 948.5,122.3 952.3,120.4 C956.1,118.5 961.4,115.3 963.7,113.1 C966.0,110.9 965.4,111.1 966.1,107.4 C966.8,103.8 967.0,95.2 967.7,91.2 C968.4,87.2 969.5,83.1 970.2,83.1 C970.9,83.1 971.3,88.4 971.8,91.2 C972.3,94.0 972.0,97.8 973.4,100.1 C974.8,102.4 977.7,103.4 979.9,105.0 C982.1,106.6 984.9,109.4 986.4,109.8 C987.9,109.8 988.1,109.0 988.8,107.4 C989.5,105.8 988.9,101.0 990.4,100.1 C991.9,100.1 995.3,101.0 997.7,101.7 C1000.1,102.4 1002.5,103.5 1005.0,104.3 C1007.5,105.1 1010.3,106.4 1013.0,106.7 C1015.7,106.7 1018.7,106.7 1021.0,106.0 C1023.3,104.8 1025.3,99.6 1027.0,99.3 C1028.7,99.3 1029.5,103.9 1031.0,104.0 C1032.5,104.0 1034.8,100.0 1036.3,100.0 C1037.8,100.2 1039.1,103.1 1040.3,105.3 C1041.5,107.5 1042.6,112.7 1043.7,113.3 C1044.8,113.3 1045.8,110.2 1047.0,108.7 C1048.2,107.2 1049.5,104.1 1051.0,104.0 C1052.5,104.0 1053.4,107.2 1055.7,108.0 C1058.0,108.7 1062.5,108.7 1065.0,108.7 C1067.5,108.6 1069.5,108.7 1071.0,107.3 C1072.5,105.6 1073.2,99.6 1074.3,98.7 C1075.4,98.7 1076.5,100.9 1077.7,102.0 C1078.9,103.1 1079.6,105.3 1081.7,105.3 C1083.8,105.1 1087.5,101.6 1090.3,100.7 C1093.1,100.0 1095.6,100.0 1098.3,100.0 C1101.0,100.4 1103.4,102.2 1106.3,103.3 C1109.2,104.4 1112.6,106.6 1115.7,106.7 C1118.8,106.7 1121.5,105.1 1125.0,104.0 C1128.5,102.9 1133.9,100.1 1137.0,100.0 C1140.1,100.0 1141.9,102.6 1143.7,103.3 C1145.5,104.0 1146.2,103.3 1147.7,104.0 C1149.2,104.8 1151.2,106.9 1153.0,108.0 C1154.8,109.1 1157.4,110.2 1158.3,110.7" fill="none" stroke="#b26be0" stroke-width="4.7" stroke-linejoin="round" stroke-linecap="round"/>
<rect x="76.6" y="10" width="1085.3" height="874.4" fill="none" stroke="#000" stroke-width="5"/>
<rect x="151.82" y="875.8" width="4.4" height="8.2" fill="#000"/>
<rect x="229.34" y="867.2" width="4.4" height="16.8" fill="#000"/>
<rect x="306.86" y="875.8" width="4.4" height="8.2" fill="#000"/>
<rect x="384.39" y="867.2" width="4.4" height="16.8" fill="#000"/>
<rect x="461.91" y="875.8" width="4.4" height="8.2" fill="#000"/>
<rect x="539.43" y="867.2" width="4.4" height="16.8" fill="#000"/>
<rect x="616.95" y="875.8" width="4.4" height="8.2" fill="#000"/>
<rect x="694.47" y="867.2" width="4.4" height="16.8" fill="#000"/>
<rect x="771.99" y="875.8" width="4.4" height="8.2" fill="#000"/>
<rect x="849.51" y="867.2" width="4.4" height="16.8" fill="#000"/>
<rect x="927.04" y="875.8" width="4.4" height="8.2" fill="#000"/>
<rect x="1004.56" y="867.2" width="4.4" height="16.8" fill="#000"/>
<rect x="1082.08" y="875.8" width="4.4" height="8.2" fill="#000"/>
<text transform="translate(76.50,931.30) scale(1,1.03)" font-size="36.8" class="t" text-anchor="middle">4000</text>
<text transform="translate(231.54,931.30) scale(1,1.03)" font-size="36.8" class="t" text-anchor="middle">3500</text>
<text transform="translate(386.59,931.30) scale(1,1.03)" font-size="36.8" class="t" text-anchor="middle">3000</text>
<text transform="translate(541.63,931.30) scale(1,1.03)" font-size="36.8" class="t" text-anchor="middle">2500</text>
<text transform="translate(696.67,931.30) scale(1,1.03)" font-size="36.8" class="t" text-anchor="middle">2000</text>
<path d="M0.425,0 L0.425,0.716 L0.300,0.716 Q0.262,0.626 0.190,0.578 Q0.130,0.540 0.072,0.520 L0.072,0.407 Q0.180,0.440 0.271,0.506 L0.271,0 Z" transform="translate(810.29,931.30) scale(36.800,-36.800)" fill="#000"/>
<text transform="translate(831.25,931.30) scale(1,1.03)" font-size="36.8" class="t">500</text>
<path d="M0.425,0 L0.425,0.716 L0.300,0.716 Q0.262,0.626 0.190,0.578 Q0.130,0.540 0.072,0.520 L0.072,0.407 Q0.180,0.440 0.271,0.506 L0.271,0 Z" transform="translate(965.34,931.30) scale(36.800,-36.800)" fill="#000"/>
<text transform="translate(986.30,931.30) scale(1,1.03)" font-size="36.8" class="t">000</text>
<text transform="translate(1161.80,931.30) scale(1,1.03)" font-size="36.8" class="t" text-anchor="middle">500</text>
<text transform="translate(98.40,88.90) scale(1,1.025)" font-size="29.15" class="t">7M KOH</text>
<text transform="translate(104.10,246.80) scale(1,1.025)" font-size="29.15" class="t">5M KOH</text>
<text transform="translate(104.60,389.70) scale(1,1.025)" font-size="29.15" class="t">3M KOH</text>
<path d="M0.425,0 L0.425,0.716 L0.300,0.716 Q0.262,0.626 0.190,0.578 Q0.130,0.540 0.072,0.520 L0.072,0.407 Q0.180,0.440 0.271,0.506 L0.271,0 Z" transform="translate(108.90,604.80) scale(29.150,-29.150)" fill="#000"/>
<text transform="translate(125.11,604.80) scale(1,1.025)" font-size="29.15" class="t">M KOH</text>
<text transform="translate(109.00,672.90) scale(1,1.025)" font-size="29.15" class="t">Pure Ni foam</text>
<text transform="translate(410.30,1010.20) scale(1,1.04)" font-size="45.77" class="t">Wavenumbers/cm</text>
<text transform="translate(800.40,992.60) scale(1,1.03)" font-size="32" class="t">-</text>
<path d="M0.425,0 L0.425,0.716 L0.300,0.716 Q0.262,0.626 0.190,0.578 Q0.130,0.540 0.072,0.520 L0.072,0.407 Q0.180,0.440 0.271,0.506 L0.271,0 Z" transform="translate(811.00,991.00) scale(29.000,-30.700)" fill="#000"/>
<text transform="translate(38.9,628.2) rotate(-90) scale(1,1.03)" font-size="45.47" class="t">Transmittance/%</text>
</svg>
</body></html>
